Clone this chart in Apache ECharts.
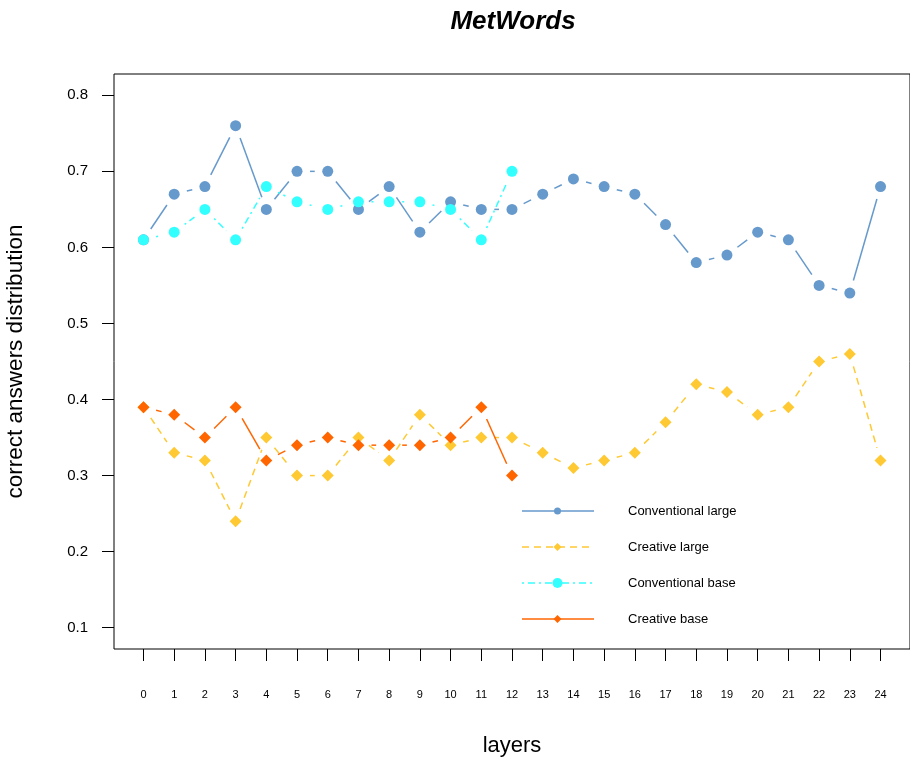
<!DOCTYPE html>
<html><head><meta charset="utf-8">
<script src="https://cdn.jsdelivr.net/npm/echarts@6/dist/echarts.min.js"></script>
<style>html,body{margin:0;padding:0;background:#fff;}#c{width:910px;height:760px;}</style>
</head><body><div id="c"></div>
<script>
const layers = [0,1,2,3,4,5,6,7,8,9,10,11,12,13,14,15,16,17,18,19,20,21,22,23,24];
const yTicks = [0.1,0.2,0.3,0.4,0.5,0.6,0.7,0.8];
const convLarge = [0.61,0.67,0.68,0.76,0.65,0.70,0.70,0.65,0.68,0.62,0.66,0.65,0.65,0.67,0.69,0.68,0.67,0.63,0.58,0.59,0.62,0.61,0.55,0.54,0.68];
const creaLarge = [0.39,0.33,0.32,0.24,0.35,0.30,0.30,0.35,0.32,0.38,0.34,0.35,0.35,0.33,0.31,0.32,0.33,0.37,0.42,0.41,0.38,0.39,0.45,0.46,0.32];
const convBase  = [0.61,0.62,0.65,0.61,0.68,0.66,0.65,0.66,0.66,0.66,0.65,0.61,0.70];
const creaBase  = [0.39,0.38,0.35,0.39,0.32,0.34,0.35,0.34,0.34,0.34,0.35,0.39,0.30];
const names = ['Conventional large','Creative large','Conventional base','Creative base'];
const colors = ['#6699CC','#FFC933','#33FFFF','#FF6600'];
const dashes = [null,[7,5],[2,4,7,4],null];
const symbols = ['circle','diamond','circle','diamond'];
const sizes = [11,12,11,12];
const allData = [convLarge, creaLarge, convBase, creaBase];
const FONT = '"Liberation Sans", Arial, sans-serif';

const chart = echarts.init(document.getElementById('c'), null, {renderer:'canvas'});
const GAP = 13;
const series = [];
allData.forEach((vals, k) => {
  const segs = [];
  for (let i = 0; i < vals.length - 1; i++) segs.push([layers[i], vals[i], layers[i+1], vals[i+1]]);
  series.push({
    type:'custom', name: names[k]+'_l', data: segs, z: 2+k*2,
    encode:{x:[0,2], y:[1,3]}, silent:true,
    renderItem: function(params, api){
      const p1 = api.coord([api.value(0), api.value(1)]);
      const p2 = api.coord([api.value(2), api.value(3)]);
      const dx = p2[0]-p1[0], dy = p2[1]-p1[1];
      const d = Math.sqrt(dx*dx+dy*dy);
      if (d <= 2*GAP) return null;
      const ux = dx/d, uy = dy/d;
      return {type:'line', shape:{x1:p1[0]+ux*GAP, y1:p1[1]+uy*GAP, x2:p2[0]-ux*GAP, y2:p2[1]-uy*GAP},
        style:{stroke:colors[k], lineWidth:1.5, lineDash:dashes[k]||null, fill:null}};
    }
  });
  series.push({
    type:'scatter', name: names[k], z: 3+k*2,
    data: vals.map((v,i)=>[layers[i], v]),
    symbol: symbols[k], symbolSize: sizes[k],
    itemStyle:{color:colors[k], opacity:1}, silent:true
  });
});

const legendY = [511,547,583,619];
const legendGraphics = [];
legendY.forEach((y,k)=>{
  legendGraphics.push({type:'line', shape:{x1:522,y1:y,x2:594,y2:y}, style:{stroke:colors[k], lineWidth:1.5, lineDash:dashes[k]||null}});
  if (symbols[k]==='circle') {
    legendGraphics.push({type:'circle', shape:{cx:557.5, cy:y, r: k===0?3.5:5}, style:{fill:colors[k]}});
  } else {
    legendGraphics.push({type:'polygon', shape:{points:[[557.5,y-4],[561.5,y],[557.5,y+4],[553.5,y]]}, style:{fill:colors[k]}});
  }
  legendGraphics.push({type:'text', x:628, y:y, style:{text:names[k], fill:'#000', font:'13px ' + FONT, verticalAlign:'middle', align:'left'}});
});

chart.setOption({
  animation:false,
  backgroundColor:'#fff',
  title:{text:'MetWords', left:508, top:4, textAlign:'center',
    textStyle:{fontFamily:FONT, fontSize:26, fontWeight:'bold', fontStyle:'italic', color:'#000'}},
  grid:{left:114, top:74, width:796, height:575, show:true, borderColor:'#000', borderWidth:1,
    backgroundColor:'transparent', containLabel:false, outerBoundsMode:'none'},
  xAxis:{type:'value', min:-0.96, max:24.96,
    name:'layers', nameLocation:'middle', nameGap:86,
    nameTextStyle:{fontFamily:FONT, fontSize:22, color:'#000'},
    axisLine:{show:false, onZero:false}, splitLine:{show:false},
    axisTick:{show:true, inside:false, length:12, customValues:layers, lineStyle:{color:'#000', width:1}},
    axisLabel:{customValues:layers, margin:40, fontFamily:FONT, fontSize:11, color:'#000'}
  },
  yAxis:{type:'value', min:0.072, max:0.828,
    name:'correct answers distribution', nameLocation:'middle', nameGap:87, nameRotate:90,
    nameTextStyle:{fontFamily:FONT, fontSize:22.5, color:'#000'},
    axisLine:{show:false, onZero:false}, splitLine:{show:false},
    axisTick:{show:true, inside:false, length:12, customValues:yTicks, lineStyle:{color:'#000', width:1}},
    axisLabel:{customValues:yTicks, margin:26, fontFamily:FONT, fontSize:15, color:'#000',
      formatter: v => v.toFixed(1)}
  },
  graphic: legendGraphics,
  series: series
});
</script></body></html>
